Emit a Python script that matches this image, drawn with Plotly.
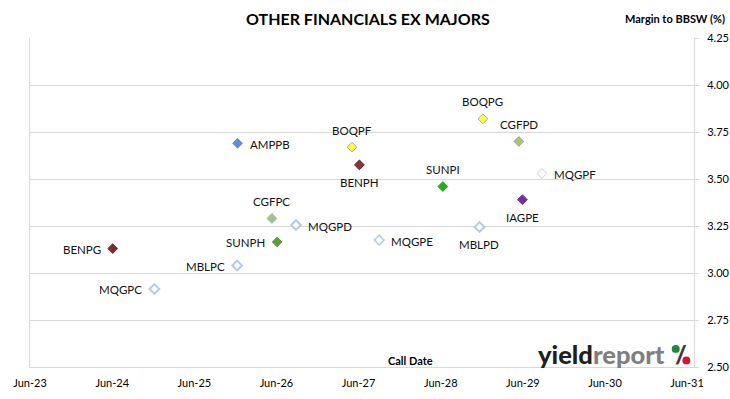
import plotly.graph_objects as go

# ---- data ----
names = ["AMPPB", "BOQPF", "BOQPG", "CGFPD", "BENPH", "SUNPI", "MQGPF", "IAGPE",
         "MBLPD", "CGFPC", "MQGPD", "MQGPE", "SUNPH", "BENPG", "MBLPC", "MQGPC"]
call_dates = ["2025-12-10", "2027-05-03", "2028-12-05", "2029-05-14", "2027-06-05",
              "2028-06-10", "2029-08-25", "2029-05-30", "2028-11-20", "2026-05-12",
              "2026-08-27", "2027-09-01", "2026-06-04", "2024-06-03", "2025-12-08",
              "2024-12-05"]
margins = [3.69, 3.67, 3.82, 3.70, 3.575, 3.46, 3.53, 3.39,
           3.245, 3.29, 3.255, 3.175, 3.165, 3.13, 3.04, 2.915]
label_pos = ["right", "top", "top", "top", "bottom", "top", "right", "bottom",
             "bottom", "top", "right", "right", "left", "left", "left", "left"]

fill_colors = ["#5B8FD8", "#FFFF33", "#FFFF33", "#B3C35A", "#8E3333", "#1DAF1D", "#FFFFFF",
               "#7030A0", "#FFFFFF", "#A8C27A", "#FFFFFF", "#FFFFFF", "#5E9E3A", "#7B2C2C",
               "#FFFFFF", "#FFFFFF"]
line_colors = ["#5B8FD8", "#A3A8C4", "#A3A8C4", "#8EA9C8", "#5C2222", "#1DAF1D", "#C3D2EC",
               "#7030A0", "#B8C9E8", "#8FB0D6", "#B8C9E8", "#B8C9E8", "#5E9E3A", "#7B2C2C",
               "#B8C9E8", "#B8C9E8"]
line_widths = [1, 1, 1, 1, 1, 1, 1, 1, 2, 1, 2, 1.5, 1, 1, 2, 2]

x_ticks_start = "2023-06-01"
x_range = ["2023-06-01", "2031-07-02"]
y_range = [2.5, 4.25]

FONT = "Lato"

fig = go.Figure()
fig.add_trace(go.Scatter(
    x=call_dates, y=margins, mode="markers",
    marker=dict(symbol="diamond", size=7.5, color=fill_colors,
                line=dict(color=line_colors, width=line_widths)),
    hoverinfo="text", text=names, showlegend=False,
))

for n, d, m, p in zip(names, call_dates, margins, label_pos):
    kw = dict(x=d, y=m, text=n, showarrow=False,
              font=dict(family=FONT, size=11.5, color="#111111"))
    if p == "right":
        kw.update(xanchor="left", yanchor="middle", xshift=10, yshift=-1)
    elif p == "left":
        kw.update(xanchor="right", yanchor="middle", xshift=-10, yshift=-1)
    elif p == "top":
        kw.update(xanchor="center", yanchor="middle", yshift=17)
    else:
        kw.update(xanchor="center", yanchor="middle", yshift=-18)
    fig.add_annotation(**kw)

# titles
fig.add_annotation(text="<b>OTHER FINANCIALS EX MAJORS</b>", xref="paper", yref="paper",
                   x=0.509, y=1.0, yshift=20, showarrow=False, xanchor="center", yanchor="middle",
                   font=dict(family=FONT, size=16, color="#000000"))
fig.add_annotation(text="<b>Margin to BBSW (%)</b>", xref="paper", yref="paper",
                   x=1.0, xshift=33, y=1.0, yshift=20, showarrow=False, xanchor="right",
                   yanchor="middle", font=dict(family=FONT, size=11, color="#000000"))
fig.add_annotation(text="<b>Call Date</b>", xref="paper", yref="paper",
                   x=0.573, y=0.0, yshift=7, showarrow=False, xanchor="center", yanchor="middle",
                   font=dict(family=FONT, size=11, color="#000000"))
# logo: "yieldreport" + a percent sign made of a slash and two coloured dots
fig.add_annotation(text="<span style='color:#1f1f1f'>yield</span><span style='color:#7f7f7f'>report</span>",
                   xref="paper", yref="paper", x=0.959, y=0.040, showarrow=False,
                   xanchor="right", yanchor="middle",
                   font=dict(family=FONT, size=25.5, color="#1f1f1f", weight=900))
fig.add_annotation(text="/", xref="paper", yref="paper", x=0.980, y=0.038, showarrow=False,
                   xanchor="center", yanchor="middle",
                   font=dict(family=FONT, size=25, color="#3a3a3a", weight=900))
fig.add_shape(type="circle", xref="paper", yref="paper", x0=0.9665, x1=0.9785, y0=0.043, y1=0.067,
              fillcolor="#1E8A3A", line=dict(width=0))
fig.add_shape(type="circle", xref="paper", yref="paper", x0=0.9825, x1=0.9945, y0=0.008, y1=0.032,
              fillcolor="#D0182B", line=dict(width=0))

fig.update_xaxes(
    type="date", range=x_range, tick0=x_ticks_start, dtick="M12", tickformat="%b-%y",
    showgrid=False, zeroline=False, showline=True, linecolor="#D9D9D9", linewidth=1,
    mirror=False, ticks="", ticklabelstandoff=6, automargin=False,
    tickfont=dict(family=FONT, size=11, color="#000000"),
)
fig.update_yaxes(
    range=y_range, dtick=0.25, tick0=2.5, tickformat=".2f", side="right",
    showgrid=True, gridcolor="#D9D9D9", gridwidth=1, zeroline=False,
    showline=True, linecolor="#D9D9D9", linewidth=1, mirror=True,
    ticks="outside", ticklen=4, tickcolor="#D9D9D9", ticklabelstandoff=6, automargin=False,
    tickfont=dict(family=FONT, size=11, color="#000000"),
)
fig.update_layout(
    width=730, height=399,
    margin=dict(l=30, r=36, t=38, b=32),
    paper_bgcolor="white", plot_bgcolor="white",
    font=dict(family=FONT),
)
# remove the default page margin so the figure sits at the window's top-left corner
fig.write_html("out.html", config={"displayModeBar": False},
               post_script="document.body.style.margin='0';document.body.style.overflow='hidden';")
